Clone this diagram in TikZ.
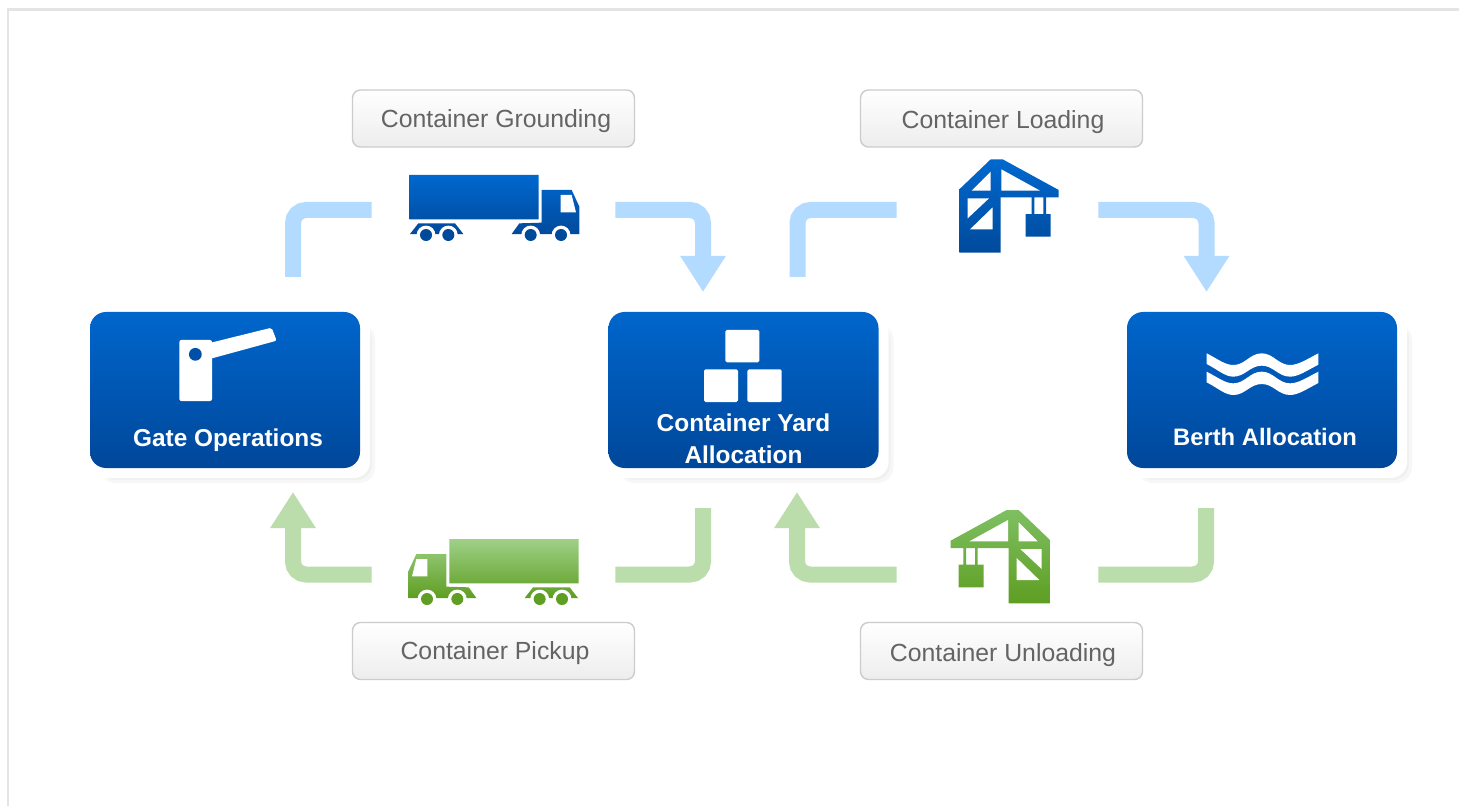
\documentclass[tikz,border=0pt]{standalone}
\usepackage{fontspec}
\setmainfont{Liberation Sans}
\usetikzlibrary{arrows.meta}
\definecolor{blueTop}{HTML}{0066CC}
\definecolor{blueBot}{HTML}{00479A}
\definecolor{iconBlueTop}{HTML}{0068CE}
\definecolor{iconBlueBot}{HTML}{004A9C}
\definecolor{iconGreenTop}{HTML}{9FD087}
\definecolor{iconGreenBot}{HTML}{5E9E22}
\definecolor{craneGreenTop}{HTML}{7EBF62}
\definecolor{arrowBlue}{HTML}{B3DBFF}
\definecolor{arrowGreen}{HTML}{BBDDAC}
\definecolor{frameGray}{HTML}{E4E4E4}
\definecolor{labelText}{HTML}{646464}
\tikzset{
  mainbox/.style={rectangle,rounded corners=8pt,inner sep=0pt,minimum width=135pt,minimum height=78pt,top color=blueTop,bottom color=blueBot,draw=none},
  maintext/.style={text=white,font=\fontsize{12.2}{15}\selectfont\bfseries,inner sep=0pt,align=center},
  tagbox/.style={rectangle,rounded corners=4pt,inner sep=0pt,minimum width=141pt,minimum height=28.5pt,top color=white,bottom color=black!7,draw=black!20,line width=0.7pt},
  tagtext/.style={text=labelText,font=\fontsize{12.4}{15}\selectfont,inner sep=0pt},
  iconslot/.style={rectangle,inner sep=0pt,minimum height=30pt,draw=none},
  flow/.style={line width=8pt,rounded corners=6.5pt,-{Triangle[width=21.5pt,length=18pt]}},
  flowplain/.style={line width=8pt,rounded corners=6.5pt},
  blueflow/.style={draw=arrowBlue,color=arrowBlue},
  greenflow/.style={draw=arrowGreen,color=arrowGreen},
}
% main box with its soft offset frame
\newcommand{\softframe}[2]{%
  \fill[black!3,rounded corners=8pt] (#1+10,#2+12) rectangle (#1+285,#2+171);
  \fill[black!6,rounded corners=8pt] (#1+10,#2+12) rectangle (#1+282,#2+168);
  \fill[white,rounded corners=8pt] (#1-6,#2-6) rectangle (#1+280,#2+166);
}
\newcommand{\truckicon}[2]{%
  \shade[top color=#1,bottom color=#2]
    (208,285) rectangle (596,418)
    (515,462) -- (538,430) -- (605,428) -- (605,330) -- (695,330) -- (718,380) -- (718,462) -- cycle
    (210,462) -- (235,430) -- (345,430) -- (370,462) -- cycle;
  \fill[white] (662,345) -- (695,345) -- (708,397) -- (662,397) -- cycle;
  \foreach \w in {258,325,572,663}{
    \fill[white] (\w,465) circle[radius=4.7pt];
  }
  \foreach \w in {258,325,572,663}{
    \fill[#2] (\w,465) circle[radius=3pt];
  }
}
\newcommand{\craneicon}[2]{%
  \shade[top color=#1,bottom color=#2]
    (538,328) -- (632,238) -- (668,238) -- (836,330) -- (836,352) -- (662,352) -- (662,518) -- (538,518) -- cycle
    (737,402) rectangle (812,470)
    (755,352) rectangle (763,402)
    (790,352) rectangle (798,402);
  \fill[white] (575,332) -- (632,275) -- (632,332) -- cycle;
  \fill[white] (664,268) -- (780,332) -- (664,332) -- cycle;
  \fill[white] (563,355) -- (627,355) -- (563,415) -- cycle;
  \fill[white] (638,382) -- (638,448) -- (570,448) -- cycle;
}
\begin{document}
\begin{tikzpicture}[x=0.5pt,y=-0.5pt]
\useasboundingbox (0,0) rectangle (1459,806);
\fill[white] (0,0) rectangle (1459,806);
\draw[frameGray,line width=1.4pt] (8,806) -- (8,9.5) -- (1459,9.5);

% soft frames
\softframe{90}{312}
\softframe{608.5}{312}
\softframe{1127}{312}

% main boxes
\node[mainbox] (gate)  at (225,390) {};
\node[mainbox] (yard)  at (743.5,390) {};
\node[mainbox] (berth) at (1262,390) {};
\node[maintext] (gatetext)  at (228,440) {Gate Operations};
\node[maintext] (yardtexta) at (743.5,423) {Container Yard};
\node[maintext] (yardtextb) at (743.5,455) {Allocation};
\node[maintext,font=\fontsize{11.9}{15}\selectfont\bfseries] (berthtext) at (1265,437) {Berth Allocation};

% tag boxes
\node[tagbox] (taga) at (493.5,118.5) {};
\node[tagbox] (tagb) at (1001.5,118.5) {};
\node[tagbox] (tagc) at (493.5,651) {};
\node[tagbox] (tagd) at (1001.5,651) {};
\node[tagtext] (tagatext) at (496,121) {Container Grounding};
\node[tagtext] (tagbtext) at (1003,122) {Container Loading};
\node[tagtext] (tagctext) at (495,653) {Container Pickup};
\node[tagtext] (tagdtext) at (1003,655) {Container Unloading};

% slots that carry the icons
\node[iconslot,minimum width=121.5pt] (trucktop) at (493.5,210) {};
\node[iconslot,minimum width=100.5pt] (cranetop) at (997.5,210) {};
\node[iconslot,minimum width=121.5pt] (truckbot) at (493.5,574.5) {};
\node[iconslot,minimum width=100.5pt] (cranebot) at (997.5,574.5) {};

% free ends of the connectors
\coordinate (gateout) at (293,277);
\coordinate (yardin)  at (703,292);
\coordinate (yardout) at (797.5,277);
\coordinate (berthin) at (1206.5,292);
\coordinate (berthout) at (1206,508);
\coordinate (yardback) at (797,492);
\coordinate (yardoutb) at (703,508);
\coordinate (gatein)  at (293,492);

% connectors
\draw[flowplain,blueflow] (gateout) |- (trucktop.west);
\draw[flow,blueflow] (trucktop.east) -| (yardin);
\draw[flowplain,blueflow] (yardout) |- (cranetop.west);
\draw[flow,blueflow] (cranetop.east) -| (berthin);
\draw[flowplain,greenflow] (berthout) |- (cranebot.east);
\draw[flow,greenflow] (cranebot.west) -| (yardback);
\draw[flowplain,greenflow] (yardoutb) |- (truckbot.east);
\draw[flow,greenflow] (truckbot.west) -| (gatein);

% truck and crane icons
\begin{scope}[shift={(340,80)},x=0.16667pt,y=-0.16667pt]
  \truckicon{iconBlueTop}{iconBlueBot}
\end{scope}
\begin{scope}[shift={(648,444)},x=-0.16667pt,y=-0.16667pt]
  \truckicon{iconGreenTop}{iconGreenBot}
\end{scope}
\begin{scope}[shift={(780,80)},x=0.16667pt,y=-0.16667pt]
  \craneicon{iconBlueTop}{iconBlueBot}
\end{scope}
\begin{scope}[shift={(1229.33,430.67)},x=-0.16667pt,y=-0.16667pt]
  \craneicon{craneGreenTop}{iconGreenBot}
\end{scope}

% gate icon
\begin{scope}[shift={(80,300)},x=0.16667pt,y=-0.16667pt]
  \fill[white,rounded corners=1pt] (298,120) rectangle (396,303);
  \fill[white,rounded corners=1pt] (385,130) -- (575,83) -- (590,122) -- (385,178) -- cycle;
  \fill[blueBot!70!blueTop] (346,163) circle[radius=3.2pt];
\end{scope}

% containers icon
\begin{scope}[shift={(600,300)},x=0.16667pt,y=-0.16667pt]
  \fill[white,rounded corners=0.8pt] (376,90) rectangle (478,187);
  \fill[white,rounded corners=0.8pt] (312,208) rectangle (414,306);
  \fill[white,rounded corners=0.8pt] (442,208) rectangle (545,306);
\end{scope}

% water icon
\begin{scope}[shift={(1110,300)},x=0.16667pt,y=-0.16667pt]
  \foreach \o in {0,55}{
    \fill[white] (290,160+\o)
      .. controls (325,178+\o) and (345,195+\o) .. (370,195+\o)
      .. controls (405,195+\o) and (420,160+\o) .. (455,160+\o)
      .. controls (490,160+\o) and (505,195+\o) .. (540,195+\o)
      .. controls (565,195+\o) and (590,178+\o) .. (625,160+\o)
      -- (625,194+\o)
      .. controls (590,212+\o) and (565,230+\o) .. (540,230+\o)
      .. controls (505,230+\o) and (490,197+\o) .. (455,197+\o)
      .. controls (420,197+\o) and (405,230+\o) .. (370,230+\o)
      .. controls (345,230+\o) and (325,210+\o) .. (290,192+\o)
      -- cycle;
  }
\end{scope}
\end{tikzpicture}
\end{document}
